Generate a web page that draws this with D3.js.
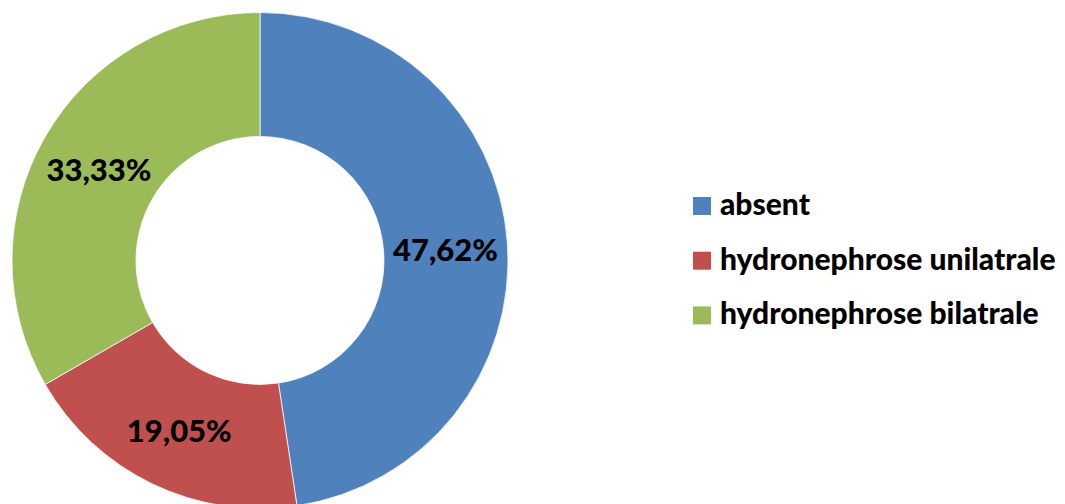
<!DOCTYPE html>
<html><head><meta charset="utf-8">
<script src="https://cdn.jsdelivr.net/npm/d3@7"></script>
<style>html,body{margin:0;padding:0;background:#fff;}</style>
</head><body>
<svg id="chart" width="1065" height="504"></svg>
<script>
const categories = ["absent", "hydronephrose unilatrale", "hydronephrose bilatrale"];
const values = [47.62, 19.05, 33.33];
const valueLabels = ["47,62%", "19,05%", "33,33%"];
const colors = ["#4F81BD", "#C0504D", "#9BBB59"];

const svg = d3.select("#chart");
const cx = 260, cy = 260.5, R = 248, r = 124;
const FONT = "Lato, 'Open Sans', sans-serif";

const pie = d3.pie().sort(null).value(d => d);
const arcs = pie(values);
const arc = d3.arc().innerRadius(r).outerRadius(R);

const g = svg.append("g").attr("transform", `translate(${cx},${cy})`);
g.selectAll("path").data(arcs).enter().append("path")
  .attr("d", arc)
  .attr("fill", (d, i) => colors[i])
  .attr("stroke", "#fff").attr("stroke-width", 0.75);

g.selectAll("text.lbl").data(arcs).enter().append("text")
  .attr("class", "lbl")
  .attr("x", d => arc.centroid(d)[0])
  .attr("y", d => arc.centroid(d)[1] + 2)
  .attr("text-anchor", "middle")
  .attr("dominant-baseline", "central")
  .attr("font-family", FONT).attr("font-weight", 900)
  .attr("font-size", 31).attr("fill", "#000")
  .text((d, i) => valueLabels[i]);

const leg = svg.append("g");
const ly = d3.scalePoint().domain(categories).range([215, 324.4]);
categories.forEach((c, i) => {
  const y = ly(c);
  leg.append("rect").attr("x", 693).attr("y", y - 18).attr("width", 18).attr("height", 18).attr("fill", colors[i]);
  leg.append("text").attr("x", 720).attr("y", y)
    .attr("font-family", FONT).attr("font-weight", 900)
    .attr("font-size", 30).attr("fill", "#000").text(c);
});
</script>
</body></html>
